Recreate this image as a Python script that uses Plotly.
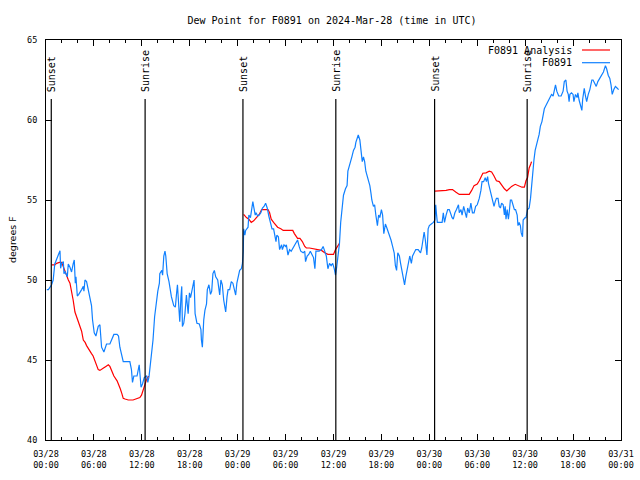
import datetime as dt
import plotly.graph_objects as go

# ---------------- data ----------------
BASE = dt.datetime(2024, 3, 28, 0, 0)

obs_hours = [0.1, 0.3, 0.7, 0.9, 1.1, 1.33, 1.54, 1.75, 1.83, 1.96, 2.17, 2.25, 2.4, 2.67, 2.79, 3.0, 3.2, 3.4, 3.54,
             3.67, 3.75, 3.92, 4.1, 4.46, 4.67, 4.75, 4.88, 5.08, 5.29, 5.5, 5.7, 5.83, 6.04, 6.25, 6.42, 6.54, 6.75,
             6.83, 6.96, 7.25, 7.58, 8.0, 8.33, 8.5, 8.9, 9.08, 9.25, 9.4, 9.67, 10.0, 10.5, 10.7, 10.83, 11.0, 11.4,
             11.67, 11.75, 11.9, 12.08, 12.3, 12.6, 12.75, 12.9, 13.2, 13.4, 13.6, 13.83, 14.0, 14.2, 14.25, 14.5,
             14.6, 14.75, 14.9, 15.0, 15.17, 15.4, 15.7, 16.0, 16.2, 16.33, 16.46, 16.67, 16.75, 16.9, 17.0, 17.08,
             17.25, 17.4, 17.58, 17.8, 17.96, 18.1, 18.25, 18.4, 18.54, 18.67, 18.9, 19.2, 19.4, 19.46, 19.58, 19.75,
             19.9, 20.1, 20.2, 20.4, 20.6, 20.75, 20.9, 21.08, 21.25, 21.5, 21.75, 21.9, 22.08, 22.25, 22.5, 22.67,
             22.8, 23.0, 23.2, 23.4, 23.6, 23.75, 23.9, 24.08, 24.25, 24.46, 24.6, 24.7, 24.75, 24.9, 25.0, 25.3,
             25.4, 25.6, 25.7, 25.9, 26.0, 26.2, 26.3, 26.5, 26.7, 26.9, 27.1, 27.3, 27.5, 27.7, 27.9, 28.1, 28.3,
             28.5, 28.7, 28.8, 28.9, 29.1, 29.25, 29.5, 29.6, 29.8, 30.0, 30.1, 30.3, 30.5, 30.7, 30.9, 31.1, 31.3,
             31.5, 31.7, 31.9, 32.2, 32.4, 32.5, 32.7, 32.9, 33.1, 33.3, 33.5, 33.67, 33.8, 34.2, 34.5, 34.7, 34.9,
             35.1, 35.3, 35.5, 35.7, 35.9, 36.1, 36.25, 36.4, 36.6, 36.75, 36.9, 37.1, 37.25, 37.5, 37.7, 37.8, 38.0,
             38.2, 38.3, 38.5, 38.7, 38.8, 39.0, 39.1, 39.3, 39.4, 39.5, 39.6, 39.75, 39.9, 40.05, 40.2, 40.4, 40.55,
             40.7, 40.8, 41.0, 41.15, 41.3, 41.5, 41.65, 41.8, 42.0, 42.15, 42.3, 42.5, 42.65, 42.8, 43.0, 43.2, 43.4,
             43.6, 43.75, 43.9, 44.05, 44.25, 44.4, 44.6, 44.75, 44.9, 45.05, 45.25, 45.4, 45.55, 45.75, 45.9, 46.1,
             46.3, 46.6, 46.9, 47.05, 47.2, 47.35, 47.5, 47.7, 47.85, 48.0, 48.25, 48.5, 48.7, 48.8, 48.9, 49.0,
             49.25, 49.6, 49.75, 49.9, 50.1, 50.3, 50.5, 50.7, 50.85, 51.0, 51.2, 51.4, 51.65, 51.75, 51.96, 52.1,
             52.3, 52.4, 52.65, 52.8, 53.0, 53.2, 53.4, 53.6, 53.8, 54.0, 54.25, 54.46, 54.6, 54.8, 55.0, 55.15,
             55.3, 55.4, 55.55, 55.7, 55.9, 56.1, 56.25, 56.4, 56.6, 56.75, 56.9, 57.05, 57.25, 57.4, 57.5, 57.6,
             57.75, 57.9, 58.0, 58.15, 58.3, 58.5, 58.65, 58.8, 59.0, 59.1, 59.25, 59.4, 59.5, 59.67, 59.75, 60.0,
             60.1, 60.3, 60.5, 60.67, 60.8, 60.96, 61.1, 61.25, 61.4, 61.6, 61.75, 61.9, 62.1, 62.25, 62.4, 62.6,
             62.8, 63.0, 63.2, 63.3, 63.5, 63.6, 63.8, 63.96, 64.2, 64.5, 64.75, 64.9, 65.1, 65.25, 65.4, 65.5, 65.6,
             65.8, 66.0, 66.1, 66.3, 66.5, 66.6, 66.75, 66.95, 67.1, 67.2, 67.4, 67.55, 67.7, 67.9, 68.1, 68.35,
             68.5, 68.7, 68.9, 69.1, 69.4, 69.6, 69.8, 70.05, 70.2, 70.4, 70.6, 70.75, 70.9, 71.1, 71.3, 71.5, 71.7]

obs_dewpt = [49.4, 49.4, 49.7, 50.0, 51.0, 51.35, 51.56, 51.83, 50.73, 51.04, 51.15, 50.4, 50.5, 50.2, 51.0, 50.8,
             50.5, 51.0, 51.25, 49.8, 50.2, 49.0, 49.1, 49.4, 49.6, 49.3, 50.0, 49.9, 49.3, 48.9, 48.4, 47.5, 46.7,
             46.5, 46.8, 47.1, 47.2, 46.5, 45.8, 45.5, 46.0, 46.0, 46.35, 46.6, 46.6, 46.5, 45.8, 45.4, 44.9, 44.9,
             44.9, 44.4, 43.6, 44.0, 44.0, 44.7, 44.2, 43.3, 43.5, 43.9, 44.0, 43.6, 43.96, 45.4, 46.25, 47.7, 48.75,
             49.3, 49.8, 50.4, 50.6, 50.3, 51.5, 51.8, 51.5, 50.4, 49.9, 48.96, 48.4, 48.3, 49.06, 49.7, 48.0, 47.4,
             48.96, 49.6, 47.1, 47.3, 47.9, 49.06, 47.9, 49.2, 48.9, 49.3, 49.5, 50.0, 47.9, 47.3, 47.25, 46.9,
             46.25, 45.8, 47.5, 48.1, 48.5, 49.4, 49.7, 49.1, 49.3, 50.4, 50.6, 50.2, 50.0, 49.06, 50.0, 49.7,
             48.75, 48.0, 48.96, 49.4, 49.4, 49.9, 49.8, 49.3, 49.06, 49.8, 50.2, 50.6, 50.7, 51.04, 51.8, 53.2,
             52.8, 53.1, 53.3, 54.06, 53.9, 54.2, 54.9, 54.6, 54.06, 54.2, 54.0, 54.06, 54.2, 54.5, 54.6, 54.8,
             54.5, 54.0, 53.5, 53.2, 53.2, 52.5, 52.4, 52.8, 52.7, 51.9, 52.2, 51.9, 52.2, 52.1, 52.2, 51.56, 51.9,
             51.8, 52.0, 52.2, 52.3, 52.5, 52.1, 51.8, 51.7, 51.8, 51.15, 51.5, 51.6, 51.8, 51.6, 51.4, 50.7, 51.8,
             51.8, 51.9, 52.1, 51.8, 51.5, 50.7, 51.04, 50.9, 51.04, 50.7, 50.3, 50.8, 51.5, 52.3, 53.6, 54.6,
             55.3, 55.7, 55.9, 56.8, 57.1, 57.4, 57.7, 58.1, 58.3, 58.6, 58.96, 59.06, 58.75, 58.3, 57.8, 57.4,
             57.7, 57.4, 56.8, 56.5, 56.25, 55.9, 55.4, 55.0, 54.6, 54.7, 54.06, 53.4, 54.06, 53.9, 54.4, 54.06,
             52.9, 53.5, 53.3, 53.1, 52.9, 52.5, 52.1, 51.7, 50.9, 50.6, 51.7, 51.5, 51.04, 50.4, 49.9, 49.7, 50.2,
             50.8, 51.3, 51.5, 51.04, 51.5, 51.7, 51.9, 51.9, 51.7, 52.0, 52.7, 53.0, 52.5, 51.56, 53.2, 53.4,
             53.5, 53.6, 53.75, 54.7, 54.1, 53.6, 53.6, 53.6, 54.2, 53.6, 54.06, 54.4, 54.4, 54.06, 53.9, 53.8,
             54.2, 54.4, 54.7, 54.2, 54.4, 54.06, 54.6, 54.4, 53.9, 54.5, 54.2, 54.8, 54.2, 54.2, 54.6, 54.7, 55.1,
             55.6, 56.15, 56.15, 56.4, 56.15, 56.46, 56.06, 55.75, 55.3, 54.9, 54.6, 54.9, 55.1, 55.1, 54.6, 54.5,
             54.8, 54.7, 54.06, 54.6, 53.8, 54.4, 53.8, 54.2, 55.0, 55.0, 54.7, 54.4, 54.4, 54.06, 53.4, 53.6,
             53.4, 52.96, 52.7, 53.75, 53.9, 53.9, 54.4, 54.5, 55.1, 56.0, 56.98, 57.5, 58.1, 58.5, 58.8, 59.1,
             59.6, 59.9, 60.4, 60.7, 60.9, 61.1, 61.25, 61.46, 61.6, 61.5, 61.7, 62.2, 61.8, 61.5, 61.5, 61.8,
             62.4, 62.5, 61.8, 61.6, 61.15, 61.6, 61.7, 61.6, 61.15, 61.6, 61.4, 61.7, 61.25, 60.9, 60.6, 61.3,
             61.98, 61.5, 61.15, 61.6, 61.9, 62.5, 62.5, 62.3, 62.1, 62.4, 62.7, 62.9, 63.0, 63.4, 63.2, 62.8,
             62.6, 62.2, 61.6, 61.9, 62.1, 62.0, 61.9]

# analysis series (None separates the three night-time runs)
ana_hours = [0.7, 1.1, 1.33, 1.67, 1.96, 2.17, 2.4, 2.6, 2.8, 3.0, 3.2, 3.4, 3.625, 3.83, 4.0, 4.25, 4.46, 4.67,
             4.9, 5.08, 5.3, 5.5, 5.7, 5.9, 6.1, 6.3, 6.54, 6.75, 6.96, 7.2, 7.5, 7.8, 8.0, 8.25, 8.5, 8.9, 9.1, 9.3,
             9.5, 9.67, 9.9, 10.3, 10.9, 11.3, 11.75, 11.96, 12.2, 12.4, 12.6, 12.8, 12.9,
             12.95,
             24.75, 25.1, 25.4, 25.7, 26.0, 26.3, 26.7, 27.0, 27.4, 27.8, 28.0, 28.2, 28.5, 28.8, 29.0, 29.4, 29.7,
             30.1, 30.5, 30.9, 31.1, 31.3, 31.5, 31.8, 32.1, 32.4, 32.6, 33.0, 33.4, 33.8, 34.1, 34.5, 34.9, 35.3,
             35.7, 36.0, 36.25, 36.5, 36.75,
             36.8,
             48.7, 49.2, 49.6, 50.1, 50.5, 50.9, 51.3, 51.75, 52.4, 53.0, 53.3, 53.6, 54.0, 54.25, 54.7, 55.1, 55.5,
             55.8, 56.1, 56.4, 56.75, 57.1, 57.4, 57.7, 58.0, 58.3, 58.75, 59.2, 59.6, 59.9, 60.1, 60.3, 60.4, 60.5,
             60.7, 60.8]

ana_dewpt = [50.94, 50.94, 51.04, 51.1, 51.1, 50.8, 50.5, 50.2, 50.0, 49.8, 49.3, 48.75, 48.0, 47.7, 47.5, 47.1,
             46.8, 46.25, 46.1, 45.9, 45.7, 45.5, 45.4, 45.25, 45.0, 44.7, 44.4, 44.35, 44.4, 44.5, 44.6, 44.7, 44.6,
             44.3, 44.0, 43.7, 43.5, 43.2, 42.9, 42.6, 42.56, 42.5, 42.5, 42.56, 42.65, 42.8, 43.2, 43.5, 43.8,
             43.96, 43.96,
             None,
             54.1, 53.9, 53.8, 53.6, 53.7, 53.9, 54.1, 54.4, 54.4, 54.4, 54.2, 53.8, 53.6, 53.4, 53.3, 53.2, 53.1,
             53.1, 53.1, 53.1, 52.9, 52.7, 52.6, 52.6, 52.4, 52.1, 52.0, 52.0, 51.95, 51.9, 51.9, 51.85, 51.7, 51.6,
             51.6, 51.6, 51.9, 52.15, 52.3,
             None,
             55.56, 55.56, 55.6, 55.6, 55.65, 55.65, 55.5, 55.35, 55.35, 55.35, 55.6, 55.9, 56.0, 56.2, 56.67, 56.7,
             56.8, 56.75, 56.5, 56.2, 56.15, 55.9, 55.7, 55.56, 55.7, 55.85, 55.98, 55.9, 55.8, 55.8, 56.2, 56.4,
             56.7, 57.0, 57.25, 57.4]

sun_event_hours = [0.66, 12.41, 24.66, 36.29, 48.66, 60.25]
sun_event_labels = ["Sunset", "Sunrise", "Sunset", "Sunrise", "Sunset", "Sunrise"]

title_text = "Dew Point for F0891 on 2024-Mar-28 (time in UTC)"
y_title = "degrees F"
series_names = ["F0891 Analysis", "F0891"]
series_colors = ["#ff0000", "#1080ff"]

# ---------------- figure ----------------
def to_time(h):
    return BASE + dt.timedelta(hours=h)

obs_x = [to_time(h) for h in obs_hours]
ana_x = [to_time(h) for h in ana_hours]

MONO = "DejaVu Sans Mono"
fig = go.Figure()
fig.add_trace(go.Scatter(x=ana_x, y=ana_dewpt, mode="lines", name=series_names[0],
                         line=dict(color=series_colors[0], width=1.2), connectgaps=False))
fig.add_trace(go.Scatter(x=obs_x, y=obs_dewpt, mode="lines", name=series_names[1],
                         line=dict(color=series_colors[1], width=1.2)))

# sunrise / sunset markers
for h, lab in zip(sun_event_hours, sun_event_labels):
    t = to_time(h)
    fig.add_shape(type="line", xref="x", yref="paper", x0=t, x1=t, y0=0, y1=0.8525,
                  line=dict(color="black", width=1.2))
    fig.add_annotation(x=t, y=0.865, xref="x", yref="paper", text=lab, showarrow=False,
                       textangle=-90, xanchor="center", yanchor="bottom",
                       font=dict(family=MONO, size=10, color="black"))

# legend drawn gnuplot-style (text right, sample line to its right)
PW = 575.0
PH = 400.0
for i, (nm, col) in enumerate(zip(series_names, series_colors)):
    ypix = 50 + i * 12.7
    yp = (440 - ypix) / PH
    fig.add_annotation(x=(574 - 46) / PW, y=yp, xref="paper", yref="paper", text=nm,
                       showarrow=False, xanchor="right", yanchor="middle",
                       font=dict(family=MONO, size=10, color="black"))
    fig.add_shape(type="line", xref="paper", yref="paper",
                  x0=(582 - 46) / PW, x1=(610 - 46) / PW, y0=yp, y1=yp,
                  line=dict(color=col, width=1.2))

# y-axis title
fig.add_annotation(x=(12 - 46) / PW, y=0.5, xref="paper", yref="paper", text=y_title,
                   showarrow=False, textangle=-90, xanchor="center", yanchor="middle",
                   font=dict(family="DejaVu Sans", size=9.5, color="black"))

fig.update_layout(
    width=640, height=480,
    margin=dict(l=46, r=19, t=40, b=40, pad=0, autoexpand=False),
    paper_bgcolor="white", plot_bgcolor="white",
    showlegend=False,
    title=dict(text=title_text, x=(332) / 640, xref="container", xanchor="center",
               y=1 - 20 / 480, yref="container", yanchor="middle",
               font=dict(family=MONO, size=10, color="black")),
    font=dict(family=MONO, size=8.5, color="black"),
)
fig.update_xaxes(
    type="date",
    range=[BASE, BASE + dt.timedelta(hours=72)],
    dtick=6 * 3600 * 1000, tick0=BASE,
    tickformat="%m/%d<br>%H:%M",
    ticks="inside", ticklen=6, tickcolor="black", tickwidth=1,
    minor=dict(dtick=2 * 3600 * 1000, ticks="inside", ticklen=3, tickcolor="black", showgrid=False),
    showline=True, linecolor="black", linewidth=1, mirror="allticks",
    showgrid=False, zeroline=False, automargin=False,
    ticklabelstandoff=6,
    tickfont=dict(family=MONO, size=8.5, color="black"),
)
fig.update_yaxes(
    range=[40, 65], dtick=5, tick0=40,
    ticks="inside", ticklen=6, tickcolor="black", tickwidth=1,
    showline=True, linecolor="black", linewidth=1, mirror="allticks",
    showgrid=False, zeroline=False, automargin=False,
    ticklabelstandoff=6,
    tickfont=dict(family=MONO, size=8.5, color="black"),
)

fig.write_html("out.html",
               config={"displayModeBar": False},
               post_script="document.body.style.margin='0';document.body.style.padding='0';")
